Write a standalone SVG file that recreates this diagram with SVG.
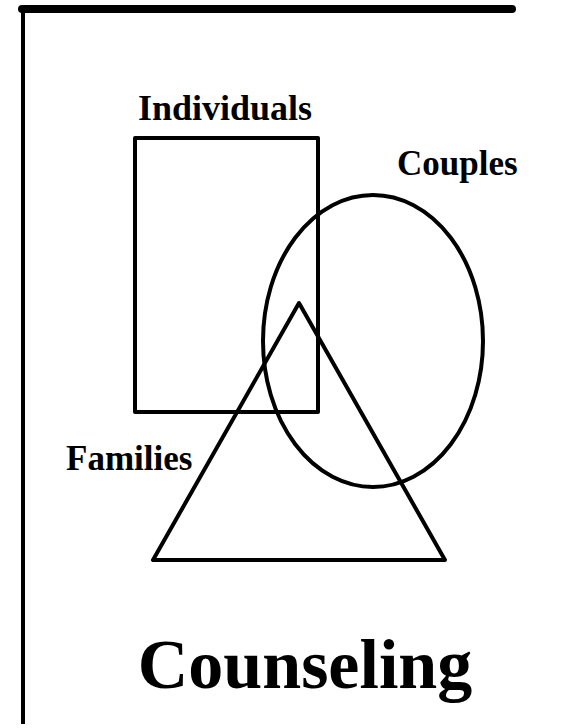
<svg xmlns="http://www.w3.org/2000/svg" width="586" height="728" viewBox="0 0 586 728">
<style>
.s{fill:none;stroke:#000;stroke-width:4;stroke-linejoin:round;stroke-linecap:round}
.t{font-family:"Liberation Serif","Times New Roman",serif;font-weight:bold;fill:#000}
</style>
<rect width="586" height="728" fill="#fff"/>
<g id="frame">
<line x1="22" y1="9" x2="512" y2="9" stroke="#000" stroke-width="8" stroke-linecap="round"/>
<line x1="23" y1="10" x2="23" y2="724" stroke="#000" stroke-width="4"/>
</g>
<g id="individuals">
<rect class="s" x="135" y="138" width="183" height="274"/>
<text class="t" x="138" y="120" font-size="36">Individuals</text>
</g>
<g id="couples">
<ellipse class="s" cx="373" cy="341" rx="110" ry="146"/>
<text class="t" x="397" y="175" font-size="35">Couples</text>
</g>
<g id="families">
<polygon class="s" points="299,303 153,560 445,560"/>
<text class="t" x="66" y="470" font-size="35">Families</text>
</g>
<g id="title">
<text class="t" x="305" y="688" font-size="70" text-anchor="middle">Counseling</text>
</g>
<g id="connectors"></g>
</svg>
